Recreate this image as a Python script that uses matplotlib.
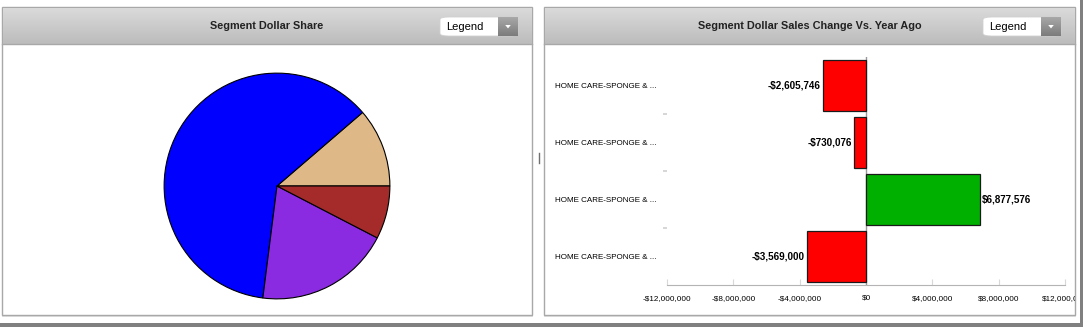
import numpy as np
import matplotlib
matplotlib.use("Agg")
import matplotlib.pyplot as plt
from matplotlib.patches import Rectangle, FancyBboxPatch, Polygon
from matplotlib.ticker import FuncFormatter

plt.rcParams['font.family'] = ['Liberation Sans', 'DejaVu Sans']

W, H = 1083, 327

# pie data (share, %)
pie_shares = [11.3, 61.7, 19.4, 7.6]
pie_colors = ['#DEB887', '#0000FF', '#8A2BE2', '#A52A2A']

# bar data
categories = ['HOME CARE-SPONGE & ...'] * 4
changes = [-2605746, -730076, 6877576, -3569000]
xticks = [-12000000, -8000000, -4000000, 0, 4000000, 8000000, 12000000]


def fr(x0, y0, x1, y1):
    # pixel box -> figure rect
    return [x0 / W, 1 - y1 / H, (x1 - x0) / W, (y1 - y0) / H]


def money(v, pos=None):
    s = '${:,.0f}'.format(abs(v))
    return '-' + s if v < 0 else s


fig = plt.figure(figsize=(W / 100, H / 100), dpi=100)
fig.patch.set_facecolor('white')

# dark frame at bottom / right
fig.add_artist(Rectangle((0, 0), 1, 4 / H, transform=fig.transFigure,
                         facecolor='#808080', edgecolor='none', zorder=-5))
fig.add_artist(Rectangle((1080 / W, 0), 3 / W, 1, transform=fig.transFigure,
                         facecolor='#808080', edgecolor='none', zorder=-5))

grad = np.linspace(0, 1, 64).reshape(-1, 1)
header_cmap = matplotlib.colors.LinearSegmentedColormap.from_list('hdr', ['#dadada', '#bcbcbc'])
btn_cmap = matplotlib.colors.LinearSegmentedColormap.from_list('btn', ['#a8a8a8', '#7c7c7c'])

panels = [(2, 7, 532, 315, 'Segment Dollar Share', 440),
          (544, 7, 1075, 315, 'Segment Dollar Sales Change Vs. Year Ago', 983)]
panel_rects = []
for x0, y0, x1, y1, title, lx in panels:
    # shadow
    fig.add_artist(Rectangle((x0 / W, 1 - (y1 + 2) / H), (x1 - x0 + 1) / W, (y1 - y0) / H,
                             transform=fig.transFigure, facecolor='#e2e2e2', edgecolor='none',
                             zorder=-4))
    rect = Rectangle((x0 / W, 1 - y1 / H), (x1 - x0) / W, (y1 - y0) / H,
                     transform=fig.transFigure, facecolor='white', edgecolor='#a8a8a8', lw=1,
                     zorder=-3)
    fig.add_artist(rect)
    panel_rects.append(rect)
    hax = fig.add_axes(fr(x0 + 1, y0 + 1, x1, 44))
    hax.imshow(grad, aspect='auto', cmap=header_cmap, extent=[0, 1, 0, 1])
    hax.set_axis_off()
    fig.add_artist(plt.Line2D([x0 / W, x1 / W], [1 - 44 / H, 1 - 44 / H],
                              transform=fig.transFigure, color='#a8a8a8', lw=1))
    fig.text((x0 + x1) / 2 / W, 1 - 26 / H, title, ha='center', va='center',
             fontsize=7.8, fontweight='bold', color='#222222')
    # legend dropdown
    fig.add_artist(FancyBboxPatch((lx / W, 1 - 36 / H), 78 / W, 19 / H,
                                  boxstyle='round,pad=0,rounding_size=0.008',
                                  transform=fig.transFigure, facecolor='white',
                                  edgecolor='#d0d0d0', lw=0.6))
    bax = fig.add_axes(fr(lx + 58, 17, lx + 78, 36))
    bax.imshow(grad, aspect='auto', cmap=btn_cmap, extent=[0, 1, 0, 1])
    bax.add_patch(Polygon([[0.36, 0.58], [0.64, 0.58], [0.5, 0.4]], closed=True,
                          facecolor='white', edgecolor='none'))
    bax.set_xlim(0, 1)
    bax.set_ylim(0, 1)
    bax.set_axis_off()
    bax.set_zorder(2)
    fig.text((lx + 6) / W, 1 - 27 / H, 'Legend', ha='left', va='center',
             fontsize=8, color='black')

# splitter handle
fig.add_artist(plt.Line2D([539 / W, 539 / W], [1 - 153 / H, 1 - 163 / H],
                          transform=fig.transFigure, color='#707070', lw=1))

# pie
pax = fig.add_axes(fr(163, 72, 391, 300))
pax.pie(pie_shares, colors=pie_colors, startangle=0, counterclock=True,
        wedgeprops=dict(edgecolor='black', linewidth=0.8))
pax.set_xlim(-1.01, 1.01)
pax.set_ylim(-1.01, 1.01)
pax.set_aspect('equal')

# bar chart
ax = fig.add_axes(fr(667, 57, 1065, 285))
ypos = np.arange(len(changes))
bar_colors = ['#00B000' if v > 0 else '#FF0000' for v in changes]
ax.barh(ypos, changes, height=0.88, color=bar_colors, edgecolor='#1a1a1a', lw=0.9, zorder=3)
ax.axvline(0, color='#999999', lw=1, zorder=2)
for y, v in zip(ypos, changes):
    if v < 0:
        ax.text(v - 120000, y, money(v), ha='right', va='center', fontsize=7.1,
                fontweight='bold', color='black', zorder=4)
    else:
        ax.text(v + 100000, y, money(v), ha='left', va='center', fontsize=7.1,
                fontweight='bold', color='black', zorder=4)
ax.set_xlim(-12000000, 12000000)
ax.set_ylim(len(changes) - 0.5, -0.5)
ax.set_xticks(xticks)
ax.xaxis.set_major_formatter(FuncFormatter(money))
ax.tick_params(axis='x', direction='in', length=4, color='#d8d8d8', labelsize=5.9,
               pad=7, labelcolor='black')
ax.set_yticks(ypos)
ax.set_yticklabels(categories)
ax.set_yticks(ypos[:-1] + 0.5, minor=True)
ax.tick_params(axis='y', which='major', length=0, pad=80.6, labelsize=5.8)
ax.tick_params(axis='y', which='minor', length=3, width=1.2, color='#d0d0d0')
for lbl in ax.get_yticklabels():
    lbl.set_horizontalalignment('left')
for lbl in ax.get_xticklabels():
    lbl.set_clip_path(panel_rects[1])
for s in ['top', 'right', 'left']:
    ax.spines[s].set_visible(False)
ax.spines['bottom'].set_color('#b4b4b4')
ax.patch.set_alpha(0)

fig.savefig('out.png', dpi=100)
